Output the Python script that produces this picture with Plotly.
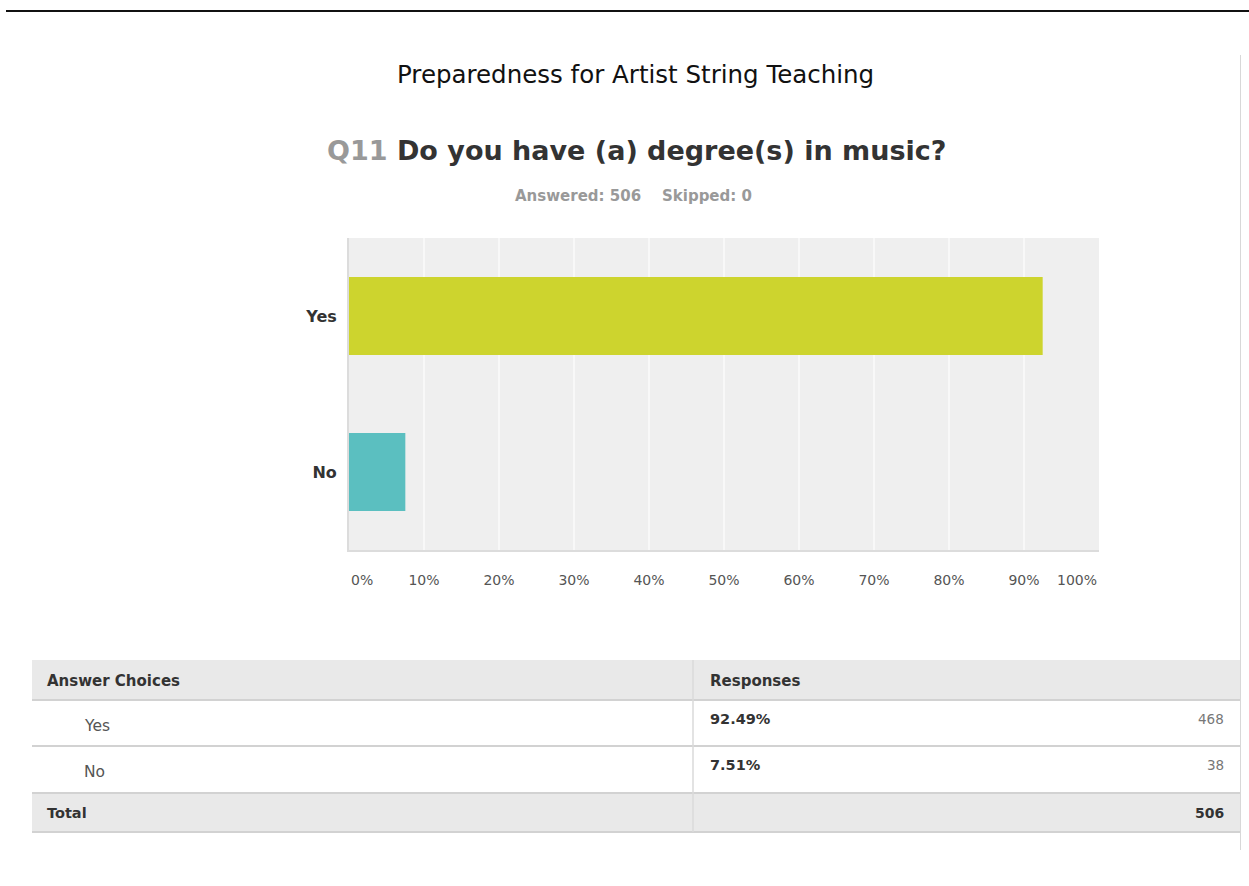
import plotly.graph_objects as go

W, H = 1249, 886

# survey data
choices = ["Yes", "No"]
percents = [92.49, 7.51]
counts = [468, 38]
total = 506
skipped = 0
bar_colors = ["#cdd42e", "#5bbfc0"]
tick_values = [0, 10, 20, 30, 40, 50, 60, 70, 80, 90, 100]
tick_labels = [f"{v}%" for v in tick_values]

FONT = "DejaVu Sans, Verdana, sans-serif"


def px(x):
    return x / W


def py(y):
    return 1 - y / H


fig = go.Figure()
fig.add_trace(go.Bar(
    x=percents,
    y=choices,
    orientation="h",
    width=0.5,
    marker=dict(color=bar_colors, line=dict(width=0)),
    hoverinfo="skip",
))

# inner tick labels go through the axis; the end labels are pinned inside the plot edges
inner_vals = tick_values[1:-1]
inner_text = tick_labels[1:-1]

fig.update_layout(
    width=W,
    height=H,
    margin=dict(l=0, r=0, t=0, b=0),
    paper_bgcolor="white",
    plot_bgcolor="#efefef",
    showlegend=False,
    xaxis=dict(
        domain=[px(349), px(1099)],
        range=[0, 100],
        tickvals=inner_vals,
        ticktext=inner_text,
        showgrid=True,
        gridcolor="#f8f8f8",
        gridwidth=1.5,
        zeroline=False,
        showline=True,
        linecolor="#dcdcdc",
        linewidth=2,
        ticks="",
        ticklabelstandoff=16,
        tickfont=dict(family=FONT, size=14, color="#555"),
        fixedrange=True,
    ),
    yaxis=dict(
        domain=[py(550), py(238)],
        categoryorder="array",
        categoryarray=choices,
        autorange="reversed",
        showgrid=False,
        zeroline=False,
        showline=True,
        linecolor="#dcdcdc",
        linewidth=2,
        ticks="",
        ticklabelstandoff=7,
        tickfont=dict(family=FONT, size=16, color="#333", weight="bold"),
        fixedrange=True,
    ),
)

annotations = []
for v, t, anchor in [(tick_values[0], tick_labels[0], "left"),
                     (tick_values[-1], tick_labels[-1], "right")]:
    annotations.append(dict(
        x=v, y=py(580), xref="x", yref="paper", text=t, showarrow=False,
        xanchor=anchor, yanchor="middle",
        font=dict(family=FONT, size=14, color="#555"),
    ))

# headings
annotations.append(dict(
    x=px(635), y=py(75), xref="paper", yref="paper", showarrow=False,
    text="Preparedness for Artist String Teaching",
    xanchor="center", yanchor="middle",
    font=dict(family=FONT, size=24.5, color="#111"),
))
annotations.append(dict(
    x=px(636), y=py(150), xref="paper", yref="paper", showarrow=False,
    text="<span style='color:#999'>Q11</span> Do you have (a) degree(s) in music?",
    xanchor="center", yanchor="middle",
    font=dict(family=FONT, size=27, color="#333", weight="bold"),
))
annotations.append(dict(
    x=px(634), y=py(196), xref="paper", yref="paper", showarrow=False,
    text=f"Answered: {total}&nbsp;&nbsp;&nbsp;&nbsp;Skipped: {skipped}",
    xanchor="center", yanchor="middle",
    font=dict(family=FONT, size=15, color="#999", weight="bold"),
))

# summary table
tbl_l, tbl_r, col_split = 32, 1240, 693
row_edges = [660, 700, 746, 793, 832]
line_col = "#d2d2d2"
shapes = [
    dict(type="line", xref="paper", yref="paper", x0=px(6), x1=1, y0=py(11), y1=py(11),
         line=dict(color="#111", width=2)),
    dict(type="line", xref="paper", yref="paper", x0=px(1240.5), x1=px(1240.5),
         y0=py(55), y1=py(850), line=dict(color="#d8d8d8", width=1)),
    dict(type="rect", xref="paper", yref="paper", x0=px(tbl_l), x1=px(tbl_r),
         y0=py(row_edges[0]), y1=py(row_edges[1]), fillcolor="#e9e9e9", line=dict(width=0),
         layer="below"),
    dict(type="rect", xref="paper", yref="paper", x0=px(tbl_l), x1=px(tbl_r),
         y0=py(row_edges[3]), y1=py(row_edges[4]), fillcolor="#e9e9e9", line=dict(width=0),
         layer="below"),
]
for y in row_edges[1:]:
    shapes.append(dict(type="line", xref="paper", yref="paper", x0=px(tbl_l), x1=px(tbl_r),
                       y0=py(y), y1=py(y), line=dict(color=line_col, width=2)))
shapes.append(dict(type="line", xref="paper", yref="paper", x0=px(col_split), x1=px(col_split),
                   y0=py(row_edges[0]), y1=py(row_edges[4]), line=dict(color="#dadada", width=1.5)))


def cell(x, y, text, anchor="left", bold=False, color="#333", size=15):
    annotations.append(dict(
        x=px(x), y=py(y), xref="paper", yref="paper", showarrow=False, text=text,
        xanchor=anchor, yanchor="middle",
        font=dict(family=FONT, size=size, color=color, weight="bold" if bold else "normal"),
    ))


cell(45, 681, "Answer Choices", bold=True)
cell(708, 681, "Responses", bold=True)
row_centers = [722, 768]
for yc, c, p, n in zip(row_centers, choices, percents, counts):
    cell(82, yc + 4, c, color="#555", size=15.5)
    cell(708, yc - 3, f"{p:.2f}%", bold=True, size=14.5)
    cell(1226, yc - 3, str(n), anchor="right", color="#777", size=13.5)
cell(45, 813, "Total", bold=True, size=14.5)
cell(1226, 813, str(total), anchor="right", bold=True, size=14)

fig.update_layout(annotations=annotations, shapes=shapes)
fig.write_html("out.html")
